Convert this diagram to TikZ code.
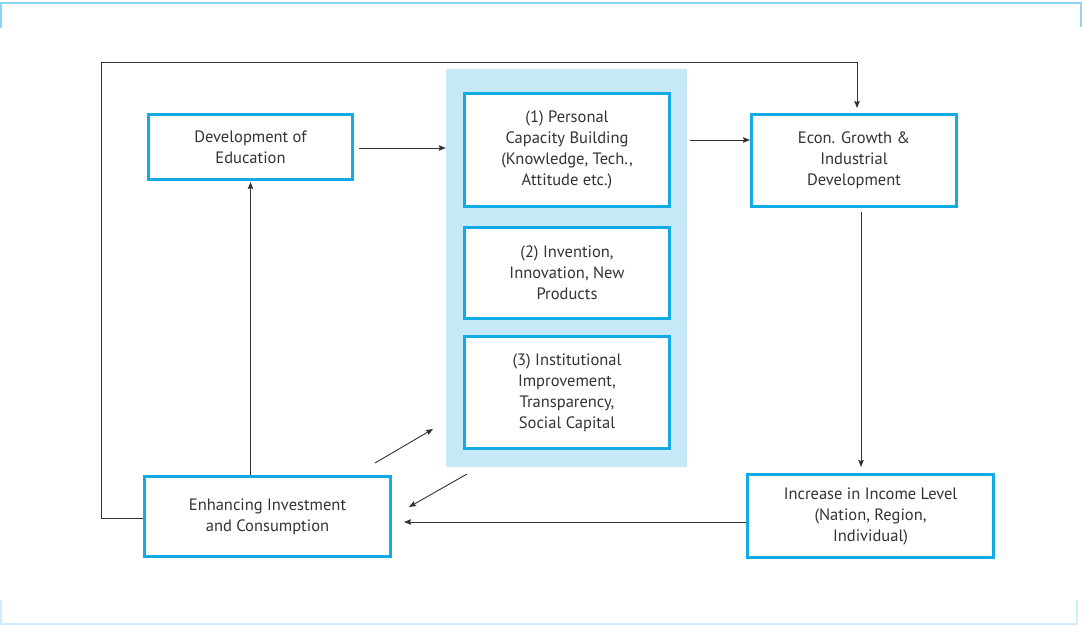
\documentclass[tikz,border=0pt]{standalone}
\usepackage{fontspec}
\setmainfont{PT Sans}
\usetikzlibrary{arrows.meta,calc}
\definecolor{boxblue}{HTML}{12ABE6}
\definecolor{panel}{HTML}{C6E8F7}
\definecolor{framecol}{HTML}{8DD6F3}
\definecolor{framelight}{HTML}{CDEFFA}
\definecolor{ink}{HTML}{333333}
\tikzset{
  box/.style={draw=boxblue, line width=3pt, fill=white, align=center,
    font=\fontsize{16.5}{21}\selectfont, text=ink, inner sep=0pt},
  link/.style={draw=ink, line width=0.9pt,
    -{Stealth[length=7pt,width=5.5pt,inset=1pt]}},
}
\begin{document}
\begin{tikzpicture}[x=1pt,y=-1pt]
\useasboundingbox (0,0) rectangle (1082,625);
% page frame marks
\draw[framecol, line width=2pt] (1,28) -- (1,2.5) -- (1081,2.5) -- (1081,27);
\draw[framelight, line width=1.5pt] (0.8,600) -- (0.8,624) -- (1077,624) -- (1077,600);

% central panel with the three outcome boxes
\node[fill=panel, minimum width=241pt, minimum height=398pt, inner sep=0pt] (bg) at (566.5,268) {};
\node[box, minimum width=205pt, minimum height=113pt] (b1) at (567,150)
  {(1) Personal\\Capacity Building\\(Knowledge, Tech.,\\Attitude etc.)};
\node[box, minimum width=205pt, minimum height=91pt] (b2) at (567,273)
  {(2) Invention,\\Innovation, New\\Products};
\node[box, minimum width=205pt, minimum height=112pt] (b3) at (567,392.5)
  {(3) Institutional\\Improvement,\\Transparency,\\Social Capital};

% surrounding boxes
\node[box, minimum width=204pt, minimum height=65pt] (edu) at (250.5,147)
  {Development of\\Education};
\node[box, minimum width=205pt, minimum height=92pt] (econ) at (854,160.5)
  {Econ. Growth \&\\Industrial\\Development};
\node[box, minimum width=246pt, minimum height=83pt] (inc) at (870.5,516)
  {Increase in Income Level\\(Nation, Region,\\Individual)};
\node[box, minimum width=246pt, minimum height=80pt] (enh) at (267.5,516.5)
  {Enhancing Investment\\and Consumption};

% free ends of the two diagonal links
\coordinate (upS) at (375,463);
\coordinate (upE) at (433,429);
\coordinate (dnS) at (467,474);
\coordinate (dnE) at (409,507);

% connectors
\draw[link, shorten <=5pt] (edu.east |- 0,148) -- (bg.west |- 0,148);
\draw[link, shorten <=3pt] (bg.east |- 0,140) -- (econ.west |- 0,140);
\draw[link, shorten >=5pt] (enh.west |- 0,518) -- ++(-42,0)
  |- ([xshift=3pt]econ.north |- 0,62) -- ([xshift=3pt]econ.north);
\draw[link, shorten <=4pt, shorten >=6pt] ([xshift=7pt]econ.south) -- ([xshift=7pt]econ.south |- inc.north);
\draw[link, shorten >=12pt] (inc.west |- 0,522) -- (enh.east |- 0,522);
\draw[link, shorten >=1pt] (enh.north -| edu.south) -- (edu.south);
\draw[link] (upS) -- (upE);
\draw[link] (dnS) -- (dnE);
\end{tikzpicture}
\end{document}
